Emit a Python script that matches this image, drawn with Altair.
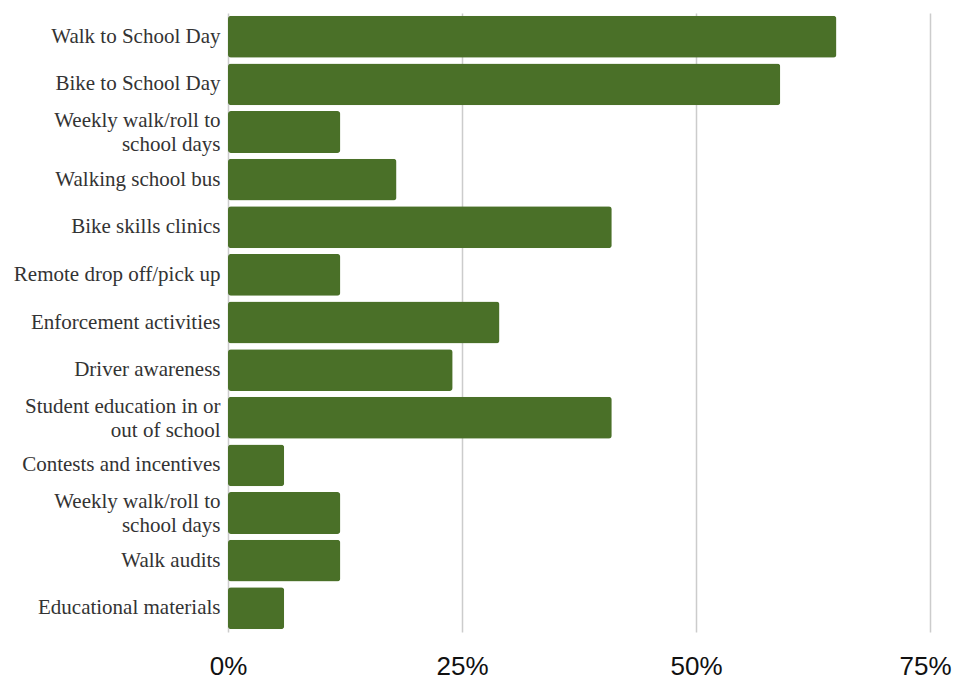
import json
import altair as alt
import pandas as pd

labels = [
    "Walk to School Day",
    "Bike to School Day",
    "Weekly walk/roll to\nschool days",
    "Walking school bus",
    "Bike skills clinics",
    "Remote drop off/pick up",
    "Enforcement activities",
    "Driver awareness",
    "Student education in or\nout of school",
    "Contests and incentives",
    "Weekly walk/roll to\nschool days",
    "Walk audits",
    "Educational materials",
]
values = [0.65, 0.59, 0.12, 0.18, 0.41, 0.12, 0.29, 0.24, 0.41, 0.06, 0.12, 0.12, 0.06]
tick_values = [0, 0.25, 0.5, 0.75]

keys = [f"k{i:02d}" for i in range(len(labels))]
df = pd.DataFrame({"key": keys, "value": values})

label_lines = [l.split("\n") for l in labels]
label_expr = f"{json.dumps(label_lines)}[indexof({json.dumps(keys)}, datum.value)]"
multi_keys = [k for k, l in zip(keys, labels) if "\n" in l]
multi_test = f"indexof({json.dumps(multi_keys)}, datum.value) >= 0"

chart = (
    alt.Chart(df)
    .mark_bar(color="#4a7028", cornerRadius=3)
    .encode(
        x=alt.X(
            "value:Q",
            scale=alt.Scale(domain=[0, 0.75], nice=False),
            axis=alt.Axis(
                values=tick_values,
                format=".0%",
                title=None,
                ticks=False,
                domain=False,
                grid=True,
                gridColor="#cccccc",
                gridWidth=1.5,
                labelFont="Liberation Sans",
                labelFontSize=26,
                labelColor="#111111",
                labelPadding=21,
                labelFlush=False,
                labelOffset={"condition": {"test": "datum.value >= 0.75", "value": -5}, "value": 0},
            ),
        ),
        y=alt.Y(
            "key:N",
            sort=keys,
            scale=alt.Scale(paddingInner=0.12, paddingOuter=0.06),
            axis=alt.Axis(
                title=None,
                ticks=False,
                domain=False,
                labelExpr=label_expr,
                labelFont="Liberation Serif",
                labelFontSize=21,
                labelLineHeight=24,
                labelColor="#333333",
                labelPadding=8,
                labelLimit=300,
                labelOffset={"condition": {"test": multi_test, "value": -11}, "value": 0},
            ),
        ),
    )
    .properties(
        width=702,
        height=619,
        autosize=alt.AutoSizeParams(type="none"),
        padding={"left": 220, "top": 5, "right": 23, "bottom": 47},
    )
    .configure_view(stroke=None)
    .configure_axisX(gridDash=[])
)

chart.save("out.html", embed_options={"renderer": "svg", "actions": False})
